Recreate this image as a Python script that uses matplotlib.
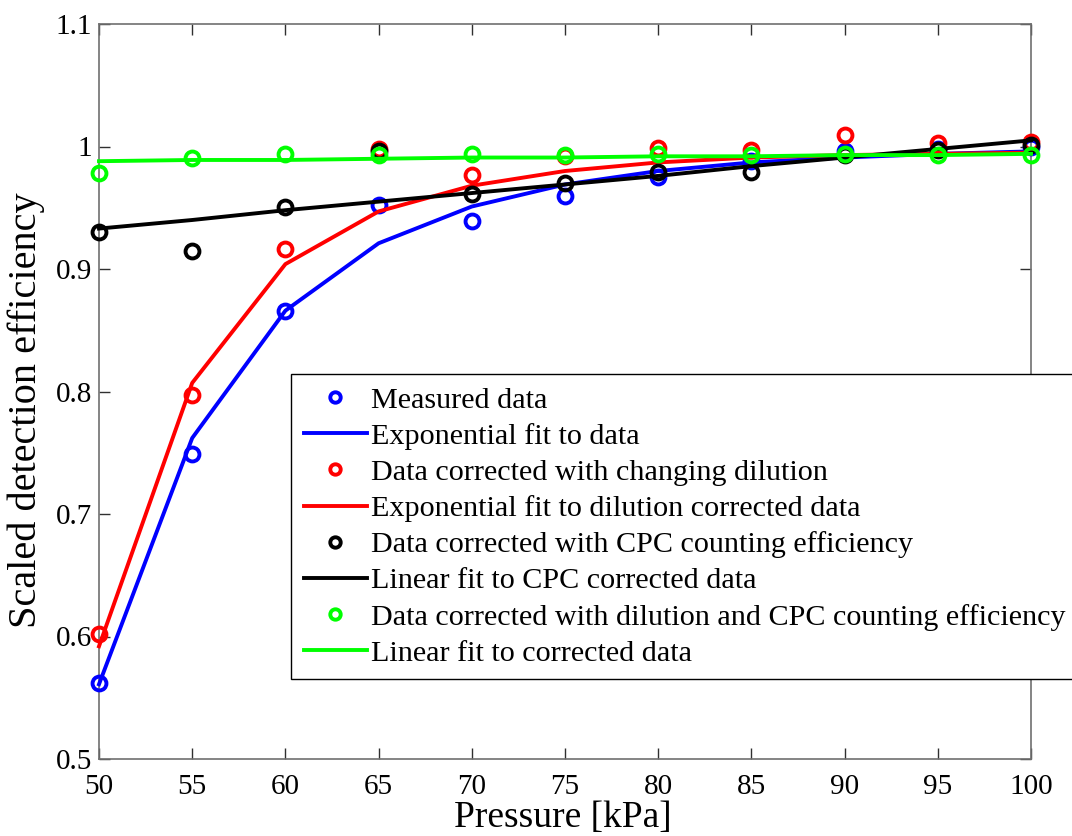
import matplotlib
matplotlib.use("Agg")
import matplotlib.pyplot as plt
from matplotlib.ticker import FuncFormatter

plt.rcParams['font.family'] = ['Liberation Serif', 'DejaVu Serif']

pressure = [50, 55, 60, 65, 70, 75, 80, 85, 90, 95, 100]

measured = [0.562, 0.749, 0.866, 0.952, 0.939, 0.960, 0.975, 0.988, 0.996, 0.998, 1.000]
measured_fit = [0.561, 0.762, 0.866, 0.921, 0.951, 0.969, 0.980, 0.987, 0.991, 0.994, 0.996]

dilution = [0.602, 0.797, 0.916, 0.998, 0.977, 0.992, 0.999, 0.997, 1.009, 1.003, 1.004]
dilution_fit = [0.592, 0.807, 0.904, 0.947, 0.968, 0.980, 0.987, 0.991, 0.993, 0.994, 0.995]

cpc = [0.930, 0.915, 0.951, 0.996, 0.961, 0.970, 0.979, 0.979, 0.993, 0.997, 1.001]
cpc_fit = [0.933, 0.940, 0.948, 0.955, 0.962, 0.969, 0.976, 0.984, 0.991, 0.998, 1.005]

both = [0.978, 0.991, 0.994, 0.993, 0.994, 0.993, 0.994, 0.993, 0.994, 0.993, 0.993]
both_fit = [0.988, 0.989, 0.989, 0.990, 0.991, 0.991, 0.992, 0.992, 0.993, 0.993, 0.994]

labels = ["Measured data", "Exponential fit to data",
          "Data corrected with changing dilution", "Exponential fit to dilution corrected data",
          "Data corrected with CPC counting efficiency", "Linear fit to CPC corrected data",
          "Data corrected with dilution and CPC counting efficiency", "Linear fit to corrected data"]

colors = ['#0000ff', '#ff0000', '#000000', '#00ff00']

fig = plt.figure(figsize=(10.72, 8.36), dpi=100)
ax = fig.add_axes([99/1072, 77/836, (1031-99)/1072, (759-24)/836])

series = [(measured, measured_fit), (dilution, dilution_fit), (cpc, cpc_fit), (both, both_fit)]
for i, (pts, fit) in enumerate(series):
    c = colors[i]
    ax.plot(pressure, pts, linestyle='none', marker='o', markersize=10, markerfacecolor='none',
            markeredgecolor=c, markeredgewidth=2.8, label=labels[2*i], clip_on=False, zorder=3)
    ax.plot(pressure, fit, color=c, linewidth=2.8, label=labels[2*i+1], clip_on=False, zorder=3)

ax.set_xlim(50, 100)
ax.set_ylim(0.5, 1.1)
ax.set_xticks(range(50, 101, 5))
ax.set_yticks([0.5, 0.6, 0.7, 0.8, 0.9, 1.0, 1.1])
ax.yaxis.set_major_formatter(FuncFormatter(lambda v, p: ('%g' % round(v, 2))))
ax.tick_params(direction='in', length=8, width=1, labelsize=21, top=True, right=True,
               color='#303030')
ax.tick_params(axis='x', pad=11)
ax.tick_params(axis='y', pad=5)
for s in ax.spines.values():
    s.set_color('#707070')
    s.set_linewidth(1.2)

ax.set_xlabel('Pressure [kPa]', fontsize=27)
ax.set_ylabel('Scaled detection efficiency', fontsize=29)
ax.xaxis.set_label_coords(0.498, -0.056)
ax.yaxis.set_label_coords(-0.058, 0.475)

handles, labs = ax.get_legend_handles_labels()
leg = fig.legend(handles, labs, loc='upper left', bbox_to_anchor=(291/1072, 1-374/836),
                 bbox_transform=fig.transFigure, fontsize=21.7, frameon=True, fancybox=False,
                 edgecolor='#000000', framealpha=1, labelspacing=0.3, handlelength=2.1,
                 handletextpad=0.15, borderpad=0.42, borderaxespad=0, markerscale=0.75)
leg.get_frame().set_linewidth(1.0)

fig.savefig('out.png', dpi=100)
